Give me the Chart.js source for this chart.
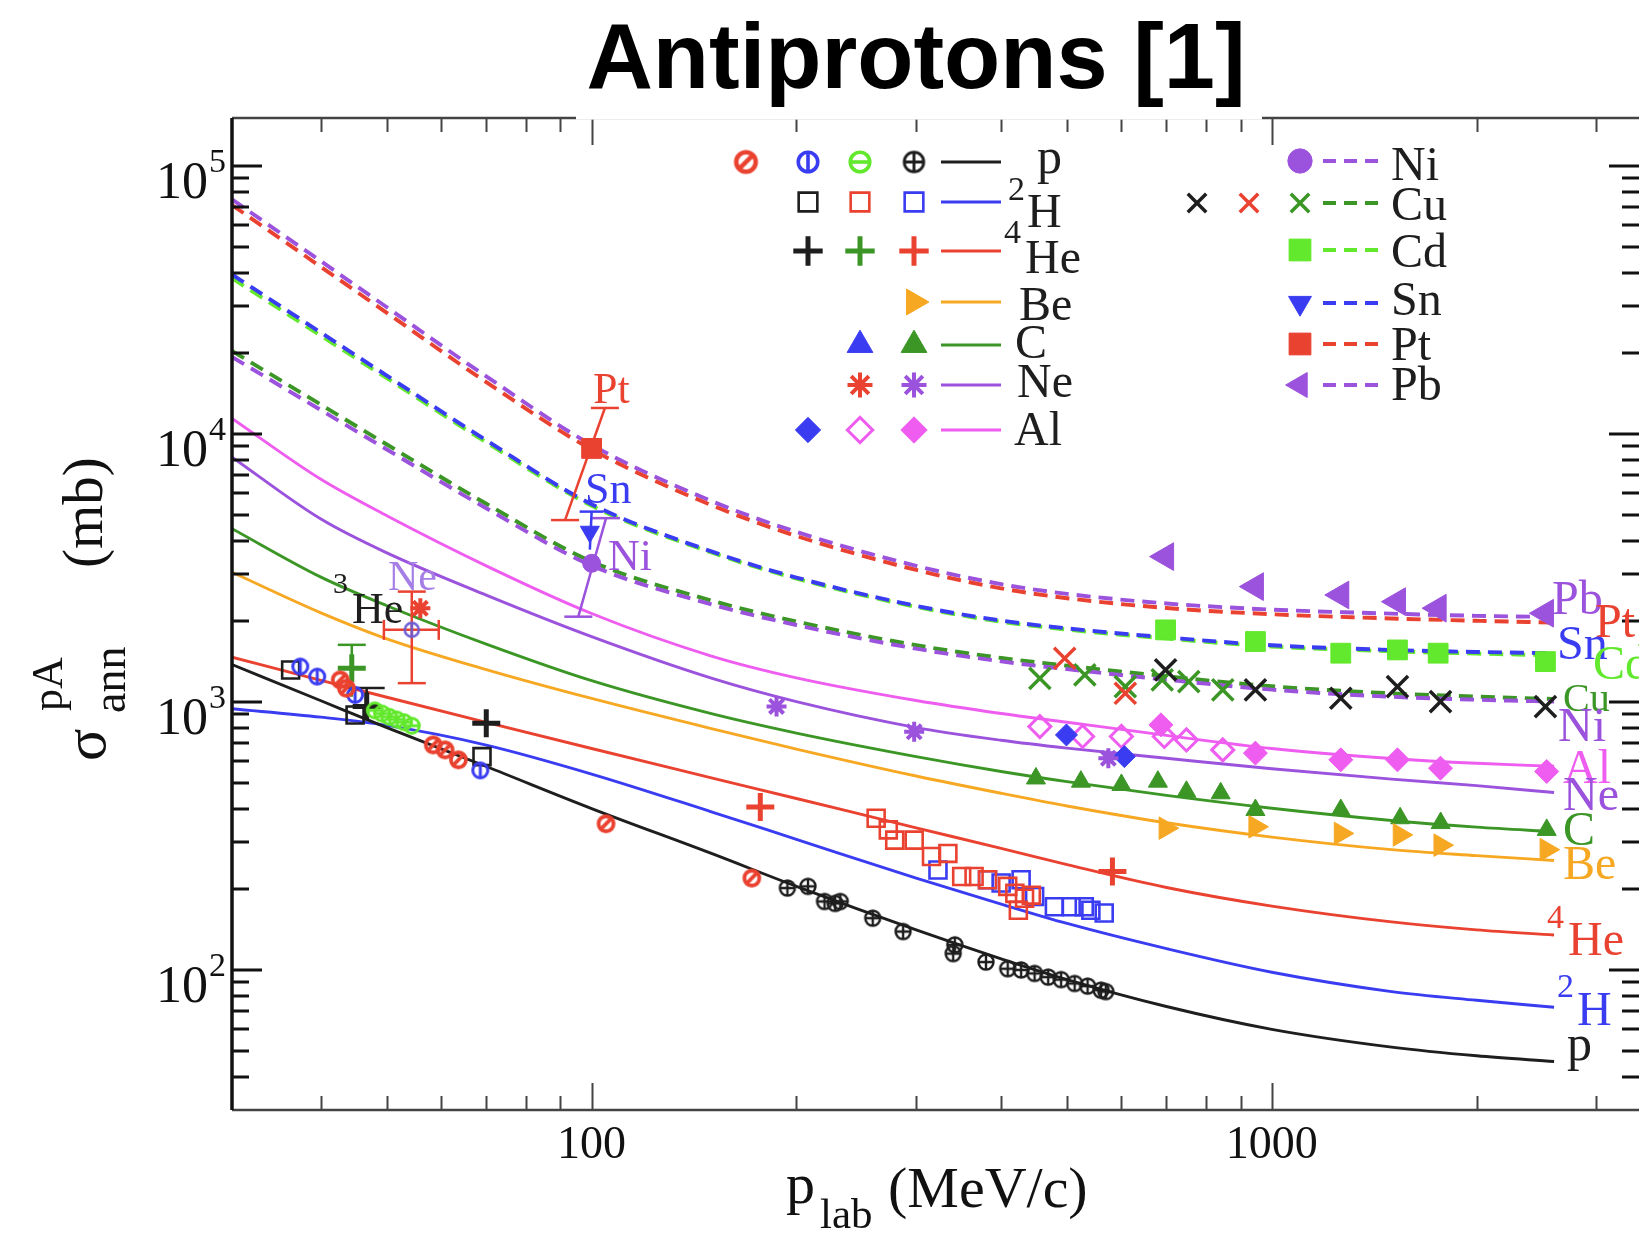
<!DOCTYPE html>
<html lang="en">
<head>
<meta charset="UTF-8" />
<title>Antiprotons [1]</title>
<style>
  body { margin: 0; background: #fff; }
  canvas { display: block; }
</style>
</head>
<body>
<canvas id="chart" width="1639" height="1234"></canvas>
<script src="https://cdn.jsdelivr.net/npm/chart.js"></script>
<script>
// momentum grid of the model curves (MeV/c)
const pGrid = [29.6, 40, 50, 70, 100, 150, 200, 300, 400, 500, 700, 1000, 1500, 2000, 2600];
// model annihilation cross sections (mb) on that grid
const fitP   = [1379, 1010, 802, 574, 400, 272, 205, 141, 110, 92, 73, 60, 51.5, 47.8, 45.5];
const fitH2  = [943, 877, 817, 690, 538, 389, 307, 220, 176, 149, 120, 98, 83, 77, 72.5];
const fitHe4 = [1468, 1204, 1041, 839, 670, 521, 436, 339, 284, 247, 203, 173, 151, 141, 135];
const fitBe  = [3047, 2150, 1720, 1320, 1030, 795, 667, 529, 456, 409, 354, 313, 281, 267, 256];
const fitC   = [4430, 2921, 2285, 1643, 1200, 904, 765, 625, 550, 504, 448, 401, 361, 341, 328];
const fitNe  = [8190, 4810, 3597, 2502, 1751, 1226, 1002, 802, 719, 672, 616, 563, 515, 487, 459];
const fitAl  = [11430, 6770, 4951, 3219, 2137, 1483, 1230, 1012, 905, 840, 750, 670, 615, 590, 575];
const fitNi  = [19380, 12270, 8745, 5279, 3227, 2313, 1936, 1580, 1417, 1325, 1210, 1111, 1045, 1019, 1003];
const fitCu  = [20400, 12860, 9130, 5490, 3340, 2390, 1995, 1628, 1459, 1365, 1246, 1144, 1076, 1046, 1025];
const fitCd  = [38130, 23250, 16150, 9300, 5400, 3610, 2885, 2262, 1992, 1862, 1724, 1610, 1545, 1515, 1492];
const fitSn  = [39360, 23890, 16500, 9467, 5466, 3643, 2912, 2283, 2011, 1881, 1741, 1627, 1563, 1536, 1520];
const fitPt  = [71500, 42000, 28300, 15610, 8754, 5424, 4161, 3108, 2653, 2438, 2241, 2124, 2048, 2008, 1977];
const fitPb  = [75000, 44100, 29700, 16400, 9100, 5620, 4310, 3220, 2750, 2530, 2330, 2210, 2135, 2095, 2075];

// measured points [p_lab, sigma]
const pRed    = [[42.7, 1208], [43.6, 1125], [58.5, 691], [60.9, 662], [63.7, 608], [105, 351], [172, 220]];
const pBlue   = [[37.3, 1355], [39.5, 1243], [44.9, 1062], [68.6, 555]];
const pGreen  = [[48, 930], [49.2, 905], [50.4, 880], [51.7, 860], [53, 840], [54.4, 815]];
const pBlack  = [[194, 202], [208, 205], [220, 180], [228, 177], [232, 180], [259, 156], [287, 139], [342, 124], [340, 115],
                 [380, 107], [409, 101], [428, 100], [448, 97], [469, 94], [490, 92], [513, 89], [536, 87], [561, 84], [570, 83]];
const h2Black = [[36.1, 1316], [44.9, 894], [69, 625]];
const h2Red   = [[262, 368], [273, 333], [279, 305], [298, 305], [316, 265], [334, 272], [350, 223], [365, 223], [382, 217],
                 [409, 205], [419, 193], [424, 167], [433, 185], [443, 190]];
const h2Blue  = [[323, 236], [382, 217], [400, 211], [428, 217], [448, 188], [479, 172], [507, 172], [530, 172], [542, 167], [567, 163]];
const he4Black = [[46.7, 961], [70, 832]];
const he4Green = [[44.4, 1336]];
const he4Red   = [[177, 405], [583, 233]];
const he3Pts   = [[54.4, 1857]];
const beOrange = [[698, 338], [946, 342], [1263, 323], [1542, 319], [1770, 292], [2535, 281]];
const cGreen   = [[450, 518], [524, 504], [601, 490], [680, 504], [749, 462], [841, 456], [946, 395], [1263, 395], [1544, 368], [1771, 353], [2536, 333]];
const neRed    = [[56, 2235]];
const nePurple = [[187, 962], [298, 774], [575, 616]];
const alBlue   = [[499, 753], [607, 625]];
const alOpen   = [[456, 809], [527, 743], [601, 743], [695, 743], [749, 721], [847, 662]];
const alPink   = [[687, 821], [946, 644], [1263, 608], [1530, 608], [1770, 566], [2536, 550]];
const niPts    = [[100, 3290]];
const cuBlack  = [[698, 1316], [946, 1109], [1263, 1032], [1530, 1140], [1770, 1003], [2525, 960]];
const cuRed    = [[496, 1455], [609, 1077]];
const cuGreen  = [[456, 1225], [531, 1262], [609, 1140], [690, 1208], [755, 1191], [847, 1109]];
const cdPts    = [[698, 1857], [946, 1680], [1263, 1520], [1530, 1563], [1756, 1520], [2525, 1414]];
const snPts    = [[99.4, 4315]];
const ptPts    = [[100, 8830]];
const pbPts    = [[698, 3485], [946, 2693], [1263, 2506], [1530, 2367], [1756, 2237], [2525, 2142]];

// error bars, end points
const ptBar  = [[104.6, 12500], [91.4, 4770]];
const snBar  = [[100, 5130], [99.4, 3700]];
const niBar  = [[105, 4850], [95.6, 2080]];
const he3BarV = [[54.4, 2580], [54.4, 1175]];
const he3BarH = [[49.5, 1857], [59.6, 1857]];
const he4GreenBar = [[44.4, 1633], [44.4, 1046]];
const he4BlackBar = [[46.7, 1127], [46.7, 860]];

// axis ticks
const xTickMajor = [100, 1000];
const xTickLabels = ['100', '1000'];
const xTickMinor = [40, 50, 60, 70, 80, 90, 200, 300, 400, 500, 600, 700, 800, 900, 2000, 3000];
const yTickMajor = [100, 1000, 10000, 100000];
const yTickExp = ['2', '3', '4', '5'];
const yTickMinor = [40, 50, 60, 70, 80, 90, 200, 300, 400, 500, 600, 700, 800, 900,
                    2000, 3000, 4000, 5000, 6000, 7000, 8000, 9000, 20000, 30000, 40000, 50000, 60000, 70000, 80000, 90000];

const C_BLACK = '#1e1e1e';
const C_BLUE = '#3a3cf2';
const C_RED = '#ea4230';
const C_ORANGE = '#f7a823';
const C_GREEN = '#3b9626';
const C_LIME = '#62e82c';
const C_PURPLE = '#9b52dc';
const C_PINK = '#ee5df0';
const SERIF = '"Liberation Serif", "DejaVu Serif", serif';

const toXY = pts => pts.map(([x, y]) => ({ x, y }));
const onGrid = vals => pGrid.map((x, i) => ({ x, y: vals[i] }));

function ringCanvas(color, bar, r, lw) {
  const s = Math.ceil(2 * r + lw + 2);
  const c = document.createElement('canvas');
  c.width = c.height = s;
  const g = c.getContext('2d');
  const m = s / 2;
  g.strokeStyle = color;
  g.lineWidth = lw;
  g.beginPath();
  g.arc(m, m, r, 0, 2 * Math.PI);
  g.stroke();
  const seg = a => {
    g.moveTo(m - r * Math.cos(a), m - r * Math.sin(a));
    g.lineTo(m + r * Math.cos(a), m + r * Math.sin(a));
  };
  g.beginPath();
  if (bar === 'slash') seg(-Math.PI / 4);
  if (bar === 'vert') seg(Math.PI / 2);
  if (bar === 'horiz') seg(0);
  if (bar === 'cross') { seg(0); seg(Math.PI / 2); }
  g.stroke();
  return c;
}

function ring(color, bar, r, lw) {
  return { pointStyle: ringCanvas(color, bar, r, lw), legendStyle: ringCanvas(color, bar, r * 1.3, lw * 1.2),
           radius: r, legendRadius: r, color, filled: false, width: lw, rotation: 0 };
}
function shape(style, color, radius, filled, width, rotation, legendScale) {
  return { pointStyle: style, legendStyle: style, radius, legendRadius: radius * (legendScale || 1.25),
           color, filled, width, rotation: rotation || 0 };
}

const M = {
  pRed: ring(C_RED, 'slash', 7.5, 3.8),
  pBlue: ring(C_BLUE, 'vert', 7.5, 3),
  pGreen: ring(C_LIME, 'horiz', 7.5, 3),
  pBlack: ring(C_BLACK, 'cross', 7.5, 2.4),
  h2Black: shape('rect', C_BLACK, 12, false, 2.6, 0, 1.1),
  h2Red: shape('rect', C_RED, 12, false, 2.6, 0, 1.1),
  h2Blue: shape('rect', C_BLUE, 12, false, 2.6, 0, 1.1),
  he4Black: shape('cross', C_BLACK, 14, false, 5, 0, 1.05),
  he4Green: shape('cross', C_GREEN, 14, false, 5, 0, 1.05),
  he4Red: shape('cross', C_RED, 14, false, 5, 0, 1.05),
  he3: ring('#6b5bd2', 'vert', 7, 2.5),
  be: shape('triangle', C_ORANGE, 13, true, 1, 90, 1.15),
  cBlue: shape('triangle', C_BLUE, 11, true, 1, 0, 1.35),
  cGreen: shape('triangle', C_GREEN, 11, true, 1, 0, 1.35),
  neRed: shape('star', C_RED, 10, true, 4, 0, 1.25),
  nePurple: shape('star', C_PURPLE, 10, true, 4, 0, 1.25),
  alBlue: shape('rectRot', C_BLUE, 11, true, 1, 0, 1.15),
  alOpen: shape('rectRot', C_PINK, 11, false, 3, 0, 1.15),
  alPink: shape('rectRot', C_PINK, 12, true, 1, 0, 1.1),
  ni: shape('circle', C_PURPLE, 9, true, 1, 0, 1.35),
  cuBlack: shape('crossRot', C_BLACK, 15, false, 3.5, 0, 0.87),
  cuRed: shape('crossRot', C_RED, 15, false, 3.5, 0, 0.87),
  cuGreen: shape('crossRot', C_GREEN, 15, false, 3.5, 0, 0.87),
  cd: shape('rect', C_LIME, 14, true, 1, 0, 1.1),
  sn: shape('triangle', C_BLUE, 11, true, 1, 180, 1.2),
  pt: shape('rect', C_RED, 14, true, 1, 0, 1.1),
  pb: shape('triangle', C_PURPLE, 16, true, 1, -90, 0.9),
};

function curve(vals, color, dashed) {
  return {
    type: 'line', order: 3, data: onGrid(vals), showLine: true,
    borderColor: color, borderWidth: dashed ? 3.9 : 2.9,
    borderDash: dashed ? [14, 8] : [],
    pointRadius: 0, cubicInterpolationMode: 'monotone', fill: false,
  };
}
function errBar(pts, color, caps, rot) {
  return {
    type: 'line', order: 2, data: toXY(pts), showLine: true,
    borderColor: color, borderWidth: 2.5,
    pointStyle: 'line', pointRadius: caps, pointRotation: rot || 0,
    pointBorderColor: color, pointBackgroundColor: color, pointBorderWidth: 2.5,
  };
}
function points(pts, m) {
  return {
    type: 'scatter', order: 1, data: toXY(pts), showLine: false,
    pointStyle: m.pointStyle, pointRadius: m.radius, pointRotation: m.rotation,
    pointBorderColor: m.color, pointBackgroundColor: m.filled ? m.color : 'rgba(0,0,0,0)',
    pointBorderWidth: m.width,
  };
}

const datasets = [
  curve(fitP, C_BLACK), curve(fitH2, C_BLUE), curve(fitHe4, C_RED), curve(fitBe, C_ORANGE),
  curve(fitC, C_GREEN), curve(fitNe, C_PURPLE), curve(fitAl, C_PINK),
  curve(fitNi, C_PURPLE, true), curve(fitCu, C_GREEN, true), curve(fitSn, C_BLUE, true),
  curve(fitCd, C_LIME, true), curve(fitPt, C_RED, true), curve(fitPb, C_PURPLE, true),
  errBar(ptBar, C_RED, [14, 14]), errBar(snBar, C_BLUE, [12, 0]), errBar(niBar, C_PURPLE, [14, 14]),
  errBar(he3BarV, C_RED, [14, 14]), errBar(he3BarH, C_RED, [10, 10], 90),
  errBar(he4GreenBar, C_GREEN, [14, 0]), errBar(he4BlackBar, C_BLACK, [18, 0]),
  points(pRed, M.pRed), points(pBlue, M.pBlue), points(pGreen, M.pGreen), points(pBlack, M.pBlack),
  points(h2Black, M.h2Black), points(h2Red, M.h2Red), points(h2Blue, M.h2Blue),
  points(he4Black, M.he4Black), points(he4Green, M.he4Green), points(he4Red, M.he4Red), points(he3Pts, M.he3),
  points(beOrange, M.be), points(cGreen, M.cGreen), points(neRed, M.neRed), points(nePurple, M.nePurple),
  points(alBlue, M.alBlue), points(alOpen, M.alOpen), points(alPink, M.alPink),
  points(niPts, M.ni), points(cuBlack, M.cuBlack), points(cuRed, M.cuRed), points(cuGreen, M.cuGreen),
  points(cdPts, M.cd), points(snPts, M.sn), points(ptPts, M.pt), points(pbPts, M.pb),
];

// legend block inside the frame: rows of markers, a line sample and the label
const legendLeft = [
  { y: 162, marks: [[746, 'pRed'], [808, 'pBlue'], [860, 'pGreen'], [914, 'pBlack']], color: C_BLACK,
    text: [['p', 50, 1037, 173]] },
  { y: 202, marks: [[808, 'h2Black'], [860, 'h2Red'], [914, 'h2Blue']], color: C_BLUE,
    text: [['2', 34, 1008, 200], ['H', 48, 1027, 227]] },
  { y: 251, marks: [[808, 'he4Black'], [860, 'he4Green'], [914, 'he4Red']], color: C_RED,
    text: [['4', 34, 1004, 243], ['He', 48, 1025, 273]] },
  { y: 302, marks: [[914, 'be']], color: C_ORANGE, text: [['Be', 48, 1019, 320]] },
  { y: 345, marks: [[860, 'cBlue'], [914, 'cGreen']], color: C_GREEN, text: [['C', 48, 1015, 358]] },
  { y: 385, marks: [[860, 'neRed'], [914, 'nePurple']], color: C_PURPLE, text: [['Ne', 48, 1017, 397]] },
  { y: 430, marks: [[808, 'alBlue'], [860, 'alOpen'], [914, 'alPink']], color: C_PINK, text: [['Al', 48, 1014, 445]] },
];
const legendRight = [
  { y: 161, marks: [[1300, 'ni']], color: C_PURPLE, text: [['Ni', 48, 1391, 180]] },
  { y: 203, marks: [[1197, 'cuBlack'], [1249, 'cuRed'], [1300, 'cuGreen']], color: C_GREEN, text: [['Cu', 48, 1391, 220]] },
  { y: 250, marks: [[1300, 'cd']], color: C_LIME, text: [['Cd', 48, 1391, 267]] },
  { y: 303, marks: [[1300, 'sn']], color: C_BLUE, text: [['Sn', 48, 1391, 315]] },
  { y: 344, marks: [[1300, 'pt']], color: C_RED, text: [['Pt', 48, 1391, 360]] },
  { y: 385, marks: [[1300, 'pb']], color: C_PURPLE, text: [['Pb', 48, 1391, 400]] },
];
// labels at the ends of the curves and next to single points
const curveLabels = [
  [C_PURPLE, [['Pb', 48, 1552, 614]]], [C_RED, [['Pt', 48, 1595, 637]]],
  [C_BLUE, [['Sn', 48, 1557, 659]]], [C_LIME, [['Cd', 48, 1593, 679]]],
  [C_GREEN, [['Cu', 40, 1563, 711]]], [C_PURPLE, [['Ni', 48, 1558, 741]]],
  [C_PINK, [['Al', 48, 1563, 783]]], [C_PURPLE, [['Ne', 48, 1563, 810]]],
  [C_GREEN, [['C', 48, 1563, 845]]], [C_ORANGE, [['Be', 48, 1563, 879]]],
  [C_RED, [['4', 34, 1547, 928], ['He', 48, 1568, 955]]],
  [C_BLUE, [['2', 34, 1557, 997], ['H', 48, 1577, 1025]]],
  [C_BLACK, [['p', 50, 1567, 1060]]],
  [C_RED, [['Pt', 44, 593, 403]]], [C_BLUE, [['Sn', 44, 585, 503]]], [C_PURPLE, [['Ni', 44, 608, 570]]],
  ['#a57ee6', [['Ne', 42, 388, 590]]],
  [C_BLACK, [['3', 30, 333, 593], ['He', 44, 352, 623]]],
];

function putText(ctx, color, parts) {
  ctx.fillStyle = color;
  ctx.textAlign = 'left';
  ctx.textBaseline = 'alphabetic';
  for (const [t, size, x, y] of parts) {
    ctx.font = size + 'px ' + SERIF;
    ctx.fillText(t, x, y);
  }
}
function drawMark(ctx, m, x, y) {
  ctx.save();
  ctx.lineWidth = m.width;
  ctx.strokeStyle = m.color;
  ctx.fillStyle = m.filled ? m.color : 'rgba(0,0,0,0)';
  Chart.helpers.drawPoint(ctx, { pointStyle: m.legendStyle, radius: m.legendRadius, rotation: m.rotation, borderWidth: m.width }, x, y);
  ctx.restore();
}

const decorations = {
  id: 'decorations',
  afterDatasetsDraw(chart) {
    const { ctx, chartArea: a, scales: { x, y } } = chart;
    ctx.save();

    // frame
    ctx.lineCap = 'butt';
    ctx.strokeStyle = '#444';
    ctx.lineWidth = 2.5;
    ctx.beginPath();
    ctx.moveTo(a.left, a.bottom); ctx.lineTo(a.right, a.bottom);
    ctx.moveTo(a.left, a.top); ctx.lineTo(a.right, a.top);
    ctx.stroke();
    ctx.strokeStyle = '#111';
    ctx.lineWidth = 3.5;
    ctx.beginPath();
    ctx.moveTo(a.left, a.top); ctx.lineTo(a.left, a.bottom);
    ctx.stroke();

    // x ticks, bottom and top, pointing inwards
    ctx.strokeStyle = '#444';
    ctx.lineWidth = 2;
    ctx.beginPath();
    const xt = (v, len) => {
      const px = Math.round(x.getPixelForValue(v)) + 0.5;
      ctx.moveTo(px, a.bottom); ctx.lineTo(px, a.bottom - len);
      ctx.moveTo(px, a.top); ctx.lineTo(px, a.top + len);
    };
    xTickMajor.forEach(v => xt(v, 27));
    xTickMinor.forEach(v => xt(v, 14));
    ctx.stroke();

    // y ticks, left and right
    ctx.strokeStyle = '#111';
    ctx.lineWidth = 3;
    ctx.beginPath();
    const yt = (v, len) => {
      const py = Math.round(y.getPixelForValue(v));
      ctx.moveTo(a.left, py); ctx.lineTo(a.left + len, py);
      ctx.moveTo(a.right, py); ctx.lineTo(a.right - len, py);
    };
    yTickMajor.forEach(v => yt(v, 30));
    yTickMinor.forEach(v => yt(v, 17));
    ctx.stroke();

    // tick labels
    ctx.fillStyle = '#111';
    ctx.textBaseline = 'alphabetic';
    ctx.font = '46px ' + SERIF;
    ctx.textAlign = 'center';
    xTickMajor.forEach((v, i) => ctx.fillText(xTickLabels[i], x.getPixelForValue(v), 1158));
    yTickMajor.forEach((v, i) => {
      const py = y.getPixelForValue(v);
      ctx.font = '52px ' + SERIF;
      ctx.textAlign = 'right';
      ctx.fillText('10', 208, py + 32);
      ctx.font = '34px ' + SERIF;
      ctx.textAlign = 'left';
      ctx.fillText(yTickExp[i], 209, py + 6);
    });

    // axis titles
    ctx.textAlign = 'left';
    ctx.font = '58px ' + SERIF;
    ctx.fillText('p', 786, 1203);
    ctx.font = '43px ' + SERIF;
    ctx.fillText('lab', 820, 1228);
    ctx.font = '58px ' + SERIF;
    ctx.fillText('(MeV/c)', 888, 1207);

    ctx.save();
    ctx.translate(105, 761);
    ctx.rotate(-Math.PI / 2);
    ctx.font = '60px ' + SERIF;
    ctx.fillText('\u03c3', 0, 0);
    ctx.font = '44px ' + SERIF;
    ctx.fillText('pA', 50, -43);
    ctx.font = '46px ' + SERIF;
    ctx.fillText('ann', 48, 20);
    ctx.font = '57px ' + SERIF;
    ctx.fillText('(mb)', 193, -3);
    ctx.restore();

    // in-frame legend
    const legendRows = (rows, x0, x1, dashed) => {
      rows.forEach(row => {
        row.marks.forEach(([mx, key]) => drawMark(ctx, M[key], mx, row.y));
        ctx.save();
        ctx.strokeStyle = row.color;
        ctx.lineWidth = dashed ? 3.8 : 3;
        ctx.setLineDash(dashed ? [13, 8] : []);
        ctx.beginPath();
        ctx.moveTo(x0, row.y); ctx.lineTo(x1, row.y);
        ctx.stroke();
        ctx.restore();
        putText(ctx, C_BLACK, row.text);
      });
    };
    legendRows(legendLeft, 941, 1001, false);
    legendRows(legendRight, 1323, 1382, true);

    curveLabels.forEach(([color, parts]) => putText(ctx, color, parts));

    // title on a white box that hides part of the top frame
    ctx.fillStyle = '#fff';
    ctx.fillRect(576, 0, 686, 119.6);
    ctx.fillStyle = '#000';
    ctx.font = 'bold 92px "Liberation Sans", Arial, sans-serif';
    ctx.textAlign = 'center';
    ctx.fillText('Antiprotons [1]', 916, 88);

    ctx.restore();
  }
};

new Chart(document.getElementById('chart'), {
  type: 'scatter',
  data: { datasets },
  options: {
    responsive: false,
    animation: false,
    devicePixelRatio: 1,
    layout: { autoPadding: false, padding: { left: 232, top: 118, right: 0, bottom: 124 } },
    plugins: { legend: { display: false }, tooltip: { enabled: false }, title: { display: false } },
    scales: {
      x: { type: 'logarithmic', display: false, min: 29.6, max: 3466 },
      y: { type: 'logarithmic', display: false, min: 30, max: 151000 },
    },
  },
  plugins: [decorations],
});
</script>
</body>
</html>
